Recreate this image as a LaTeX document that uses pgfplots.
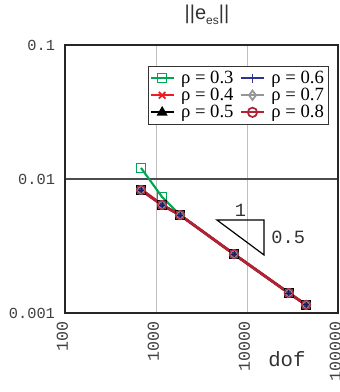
\documentclass[border=0pt]{standalone}
\usepackage{fontspec}
\usepackage{pgfplots}
\pgfplotsset{compat=1.18}
\usetikzlibrary{calc}
\setmainfont{Liberation Sans}
\newfontfamily\lmono{Liberation Mono}
\newfontfamily\lserif{Liberation Serif}
\definecolor{cgreen}{RGB}{0,166,81}
\definecolor{cred}{RGB}{237,28,36}
\definecolor{cnavy}{RGB}{46,49,146}
\definecolor{cgray}{RGB}{150,150,150}
\definecolor{cdred}{RGB}{178,34,52}
\begin{document}
\begin{tikzpicture}
\begin{axis}[
  name=ax,
  scale only axis,
  width=204.75pt, height=201pt,
  xmode=log, ymode=log,
  xmin=100, xmax=100000, ymin=0.001, ymax=0.1,
  xtick={100,1000,10000,100000},
  xticklabels={100,1000,10000,100000},
  ytick={0.001,0.01,0.1},
  yticklabels={0.001,0.01,0.1},
  xminorticks=false, yminorticks=false,
  major tick length=0pt,
  xticklabel style={rotate=90, anchor=east, font=\lmono\fontsize{12.5}{13}\selectfont, color=black!75, xshift=-3pt, yshift=2pt},
  yticklabel style={font=\lmono\fontsize{11.5}{13}\selectfont, color=black!75, xshift=-4pt},
  axis line style={line width=1.5pt, black!85},
  grid=major,
  x grid style={black!25, line width=0.6pt},
  y grid style={black!70, line width=0.8pt},
  xlabel={dof},
  xlabel style={at={(axis description cs:0.813,-0.172)}, anchor=center, font=\lmono\fontsize{15.5}{16}\selectfont, color=black!80},
  title={||e\raisebox{-0.45ex}{\fontsize{9}{10}\selectfont es}||},
  title style={at={(axis description cs:0.52,1.082)}, anchor=center, font=\fontsize{15}{16}\selectfont, color=black!80},
  legend style={at={(axis description cs:0.967,0.922)}, anchor=north east,
    font=\lserif\fontsize{14}{15}\selectfont, draw=black!80, line width=0.6pt,
    inner sep=1.5pt, row sep=-2pt, column sep=3pt},
  legend columns=2,
  legend cell align=left,
  every axis plot/.append style={line width=1.6pt},
]
\addplot[cgreen, mark=square, mark size=3.4pt, mark options={solid, line width=0.7pt}, forget plot] coordinates {
(684,0.0121) (1165,0.00735) (1837,0.00540) (7200,0.00275) (28800,0.00141) (44600,0.00115)};
\addplot[cred, mark=x, mark size=3.4pt, mark options={line width=0.7pt}, forget plot] coordinates {
(684,0.00845) (1165,0.00645) (1837,0.00540) (7200,0.00275) (28800,0.00141) (44600,0.00115)};
\addplot[black, mark=square*, mark size=3pt, forget plot] coordinates {
(684,0.00828) (1165,0.00640) (1837,0.00538) (7200,0.00275) (28800,0.00141) (44600,0.00115)};
\addplot[cnavy, mark=*, mark size=3pt, mark options={fill=cnavy, draw=cgray}, forget plot] coordinates {
(684,0.00828) (1165,0.00640) (1837,0.00538) (7200,0.00275) (28800,0.00141) (44600,0.00115)};
\addplot[cdred, line width=2.2pt, mark=o, mark size=3.3pt, mark options={line width=0.8pt}, forget plot] coordinates {
(684,0.00828) (1165,0.00640) (1837,0.00538) (7200,0.00275) (28800,0.00141) (44600,0.00115)};
\addplot[cnavy, only marks, mark=+, mark size=2.5pt, mark options={draw=cnavy!60!black, line width=0.6pt}, forget plot] coordinates {
(684,0.00828) (1165,0.00640) (1837,0.00538) (7200,0.00275) (28800,0.00141) (44600,0.00115)};
\draw[black, line width=0.9pt] (axis cs:4680,0.00494) -- (axis cs:15400,0.00494) -- (axis cs:15400,0.00271) -- cycle;
\node[font=\lmono\fontsize{14}{15}\selectfont, color=black!80] at (axis cs:8500,0.0058) {1};
\node[font=\lmono\fontsize{14}{15}\selectfont, color=black!80, anchor=west] at (axis cs:16500,0.0037) {0.5};
\addlegendimage{cgreen, line width=1.3pt, mark=square, mark size=3.5pt, mark options={line width=0.7pt}}
\addlegendentry{\lserif\fontsize{14}{15}\selectfont ρ = 0.3}
\addlegendimage{cnavy, line width=1.3pt, mark=+, mark size=3.5pt}
\addlegendentry{\lserif\fontsize{14}{15}\selectfont ρ = 0.6}
\addlegendimage{cred, line width=1.3pt, mark=x, mark size=3.5pt}
\addlegendentry{\lserif\fontsize{14}{15}\selectfont ρ = 0.4}
\addlegendimage{cgray, line width=1.3pt, mark=diamond, mark size=3.5pt, mark options={fill=white}}
\addlegendentry{\lserif\fontsize{14}{15}\selectfont ρ = 0.7}
\addlegendimage{black, line width=1.3pt, mark=triangle*, mark size=3.5pt}
\addlegendentry{\lserif\fontsize{14}{15}\selectfont ρ = 0.5}
\addlegendimage{cdred, line width=1.3pt, mark=o, mark size=3.5pt, mark options={fill=white}}
\addlegendentry{\lserif\fontsize{14}{15}\selectfont ρ = 0.8}
\end{axis}
\pgfresetboundingbox
\useasboundingbox ($(ax.south west)+(-48.75pt,-59.25pt)$) rectangle ($(ax.north east)+(0.75pt,33.75pt)$);
\end{tikzpicture}
\end{document}
